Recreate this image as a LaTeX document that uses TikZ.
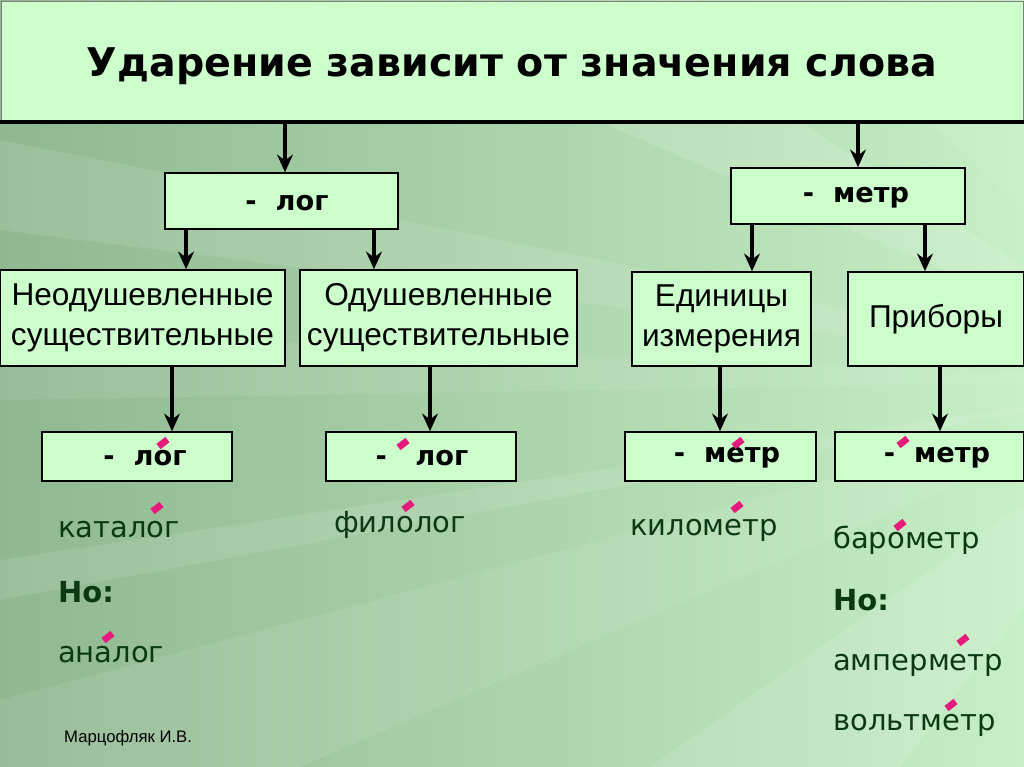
\documentclass[tikz,border=0pt]{standalone}
\usepackage{fontspec}
\setmainfont{DejaVu Sans}
\newfontfamily\arialf{Liberation Sans}
\usetikzlibrary{arrows.meta}
\definecolor{boxgreen}{HTML}{CCFFCC}
\definecolor{wordgreen}{HTML}{0B3A12}
\definecolor{stresspink}{HTML}{E6197D}
\definecolor{bgdark}{HTML}{90B890}
\definecolor{bglight}{HTML}{C6EFC6}
\tikzset{
  box/.style={draw=black, line width=0.9pt, fill=boxgreen},
  arr/.style={line width=1.8pt, -{Stealth[length=10pt,width=9pt]}},
  suffix/.style={font=\fontsize{15.5}{18}\selectfont\bfseries, text=black},
  category/.style={font=\arialf\fontsize{18}{23}\selectfont, text=black, align=center},
  word/.style={font=\fontsize{16.5}{19}\selectfont, text=wordgreen, anchor=west},
  stress/.style={line width=3.8pt, stresspink},
}
\newcommand{\stressmark}[2]{\draw[stress] (#1-4.5,#2+3.5) -- (#1+4.5,#2-3.5);}
\begin{document}
\begin{tikzpicture}[x=0.02cm,y=-0.02cm]
\useasboundingbox (0,0) rectangle (1024,767);
% background
\shade[left color=bgdark, right color=bglight] (0,0) rectangle (1024,767);
\fill[white, opacity=0.10] (1200,380) -- (0,140) -- (0,230) -- cycle;
\fill[white, opacity=0.08] (1200,380) -- (0,330) -- (0,400) -- cycle;
\fill[white, opacity=0.10] (1200,380) -- (0,560) -- (0,600) -- cycle;
\fill[white, opacity=0.08] (1200,380) -- (0,700) -- (0,767) -- (300,767) -- cycle;
\fill[white, opacity=0.10] (1200,380) -- (650,767) -- (900,767) -- cycle;
\fill[white, opacity=0.12] (1200,380) -- (600,122) -- (800,122) -- cycle;
\fill[white, opacity=0.08] (1200,380) -- (930,122) -- (1024,122) -- (1024,180) -- cycle;
% title band
\node[draw=gray, line width=0.5pt, fill=boxgreen, minimum width=1022*0.02cm, minimum height=120*0.02cm, anchor=north west, inner sep=0pt] (title) at (1,1) {};
\draw[line width=2.3pt] (0,122) -- (1024,122);
\node[font=\fontsize{22.5}{26}\selectfont\bfseries] (titletext) at (512,66) {Ударение зависит от значения слова};
% level 1
\node[box, minimum width=233*0.02cm, minimum height=56*0.02cm, inner sep=0pt] (log) at (281.5,201) {};
\node[suffix] at (287,203) {-\ \ лог};
\node[box, minimum width=234*0.02cm, minimum height=56*0.02cm, inner sep=0pt] (metr) at (848,196) {};
\node[suffix] at (856,198) {-\ \ метр};
% level 2
\node[box, category, minimum width=285*0.02cm, minimum height=96*0.02cm, inner sep=0pt] (neod) at (142.5,318) {Неодушевленные\\существительные};
\node[box, category, minimum width=277*0.02cm, minimum height=96*0.02cm, inner sep=0pt] (od) at (438.5,318) {Одушевленные\\существительные};
\node[box, category, minimum width=179*0.02cm, minimum height=94*0.02cm, inner sep=0pt] (edin) at (721.5,319) {Единицы\\измерения};
\node[box, category, minimum width=176*0.02cm, minimum height=94*0.02cm, inner sep=0pt] (prib) at (936,319) {Приборы};
% level 3
\node[box, minimum width=190*0.02cm, minimum height=49*0.02cm, inner sep=0pt] (l1) at (137,456.5) {};
\node[suffix] at (145,458) {-\ \ лог};
\node[box, minimum width=190*0.02cm, minimum height=49*0.02cm, inner sep=0pt] (l2) at (421,456.5) {};
\node[suffix] at (422,458) {-\ \ \ лог};
\node[box, minimum width=191*0.02cm, minimum height=49*0.02cm, inner sep=0pt] (m1) at (720.5,456.5) {};
\node[suffix] at (727,458) {-\ \ метр};
\node[box, minimum width=189*0.02cm, minimum height=49*0.02cm, inner sep=0pt] (m2) at (929.5,456.5) {};
\node[suffix] at (937,458) {-\ \ метр};
% arrows
\draw[arr] (285,122) coordinate (a1) -- (a1 |- log.north);
\draw[arr] (858,122) coordinate (a2) -- (a2 |- metr.north);
\draw[arr] (186,229) coordinate (a3) -- (a3 |- neod.north);
\draw[arr] (374,229) coordinate (a4) -- (a4 |- od.north);
\draw[arr] (752,224) coordinate (a5) -- (a5 |- edin.north);
\draw[arr] (925,224) coordinate (a6) -- (a6 |- prib.north);
\draw[arr] (172,366) coordinate (a7) -- (a7 |- l1.north);
\draw[arr] (430,366) coordinate (a8) -- (a8 |- l2.north);
\draw[arr] (720,366) coordinate (a9) -- (a9 |- m1.north);
\draw[arr] (940,366) coordinate (a10) -- (a10 |- m2.north);
% words
\node[word] (w1) at (52,530) {каталог};
\node[word, font=\fontsize{16.5}{19}\selectfont\bfseries] (w2) at (52,592) {Но:};
\node[word] (w3) at (52,655) {аналог};
\node[word] (w4) at (328,525) {филолог};
\node[word] (w5) at (624,530) {километр};
\node[word] (w6) at (827,540) {барометр};
\node[word, font=\fontsize{16.5}{19}\selectfont\bfseries] (w7) at (827,600) {Но:};
\node[word] (w8) at (827,665) {амперметр};
\node[word] (w9) at (827,725) {вольтметр};
\node[font=\arialf\fontsize{9.5}{11}\selectfont, anchor=west] (author) at (58,738) {Марцофляк И.В.};
% stress marks
\stressmark{163}{443}
\stressmark{403}{444}
\stressmark{157}{508}
\stressmark{408}{506}
\stressmark{738}{443}
\stressmark{903}{442}
\stressmark{737}{507}
\stressmark{900}{525}
\stressmark{108}{637}
\stressmark{963}{640}
\stressmark{951}{705}
\end{tikzpicture}
\end{document}
